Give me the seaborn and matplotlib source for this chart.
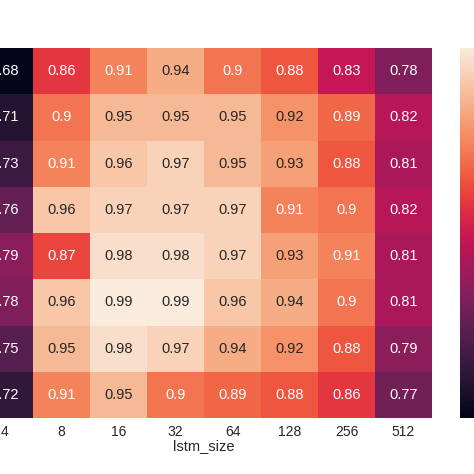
import numpy as np
import pandas as pd
import matplotlib
matplotlib.use("Agg")
import matplotlib.pyplot as plt
import seaborn as sns

lstm_sizes = [4, 8, 16, 32, 64, 128, 256, 512]
row_labels = ["r1", "r2", "r3", "r4", "r5", "r6", "r7", "r8"]
row1 = [0.68, 0.86, 0.91, 0.94, 0.90, 0.88, 0.83, 0.78]
row2 = [0.71, 0.90, 0.95, 0.95, 0.95, 0.92, 0.89, 0.82]
row3 = [0.73, 0.91, 0.96, 0.97, 0.95, 0.93, 0.88, 0.81]
row4 = [0.76, 0.96, 0.97, 0.97, 0.97, 0.91, 0.90, 0.82]
row5 = [0.79, 0.87, 0.98, 0.98, 0.97, 0.93, 0.91, 0.81]
row6 = [0.78, 0.96, 0.99, 0.99, 0.96, 0.94, 0.90, 0.81]
row7 = [0.75, 0.95, 0.98, 0.97, 0.94, 0.92, 0.88, 0.79]
row8 = [0.72, 0.91, 0.95, 0.90, 0.89, 0.88, 0.86, 0.77]

df = pd.DataFrame([row1, row2, row3, row4, row5, row6, row7, row8],
                  index=row_labels, columns=lstm_sizes)
df.columns.name = "lstm_size"

sns.set_theme(style="white")
plt.rcParams['font.family'] = ['Liberation Sans', 'DejaVu Sans']

fig = plt.figure(figsize=(4.74, 4.74), dpi=100)
ax = fig.add_axes([-24/474, (474-418)/474, 456/474, 370/474])
cax = fig.add_axes([460/474, (474-418)/474, 20/474, 370/474])

sns.heatmap(df, annot=True, fmt="g", cmap="rocket", ax=ax, cbar_ax=cax,
            annot_kws={"fontsize": 10.5}, yticklabels=False)
ax.tick_params(axis='x', labelsize=10, length=0, pad=5, rotation=0)
ax.set_xlabel("lstm_size", fontsize=10.5, labelpad=0)
ax.set_ylabel("")
cax.tick_params(labelsize=9, length=0)
cax.set_yticklabels([])

fig.savefig("out.png", dpi=100)
